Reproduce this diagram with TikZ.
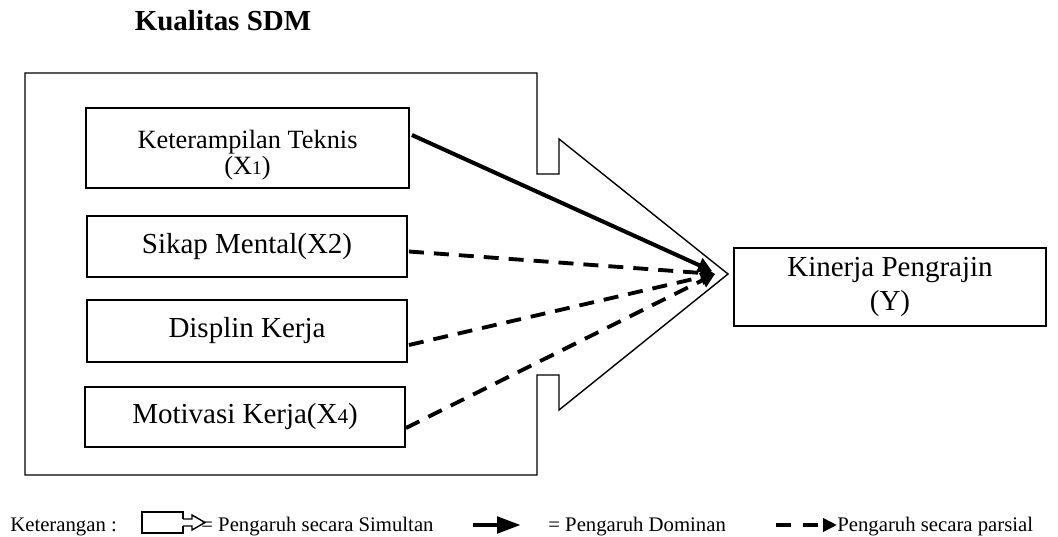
\documentclass[tikz,border=0pt]{standalone}
\usepackage{fontspec}
\setmainfont{Liberation Serif}
\usetikzlibrary{arrows.meta,calc}
\begin{document}
\begin{tikzpicture}[x=0.02cm,y=-0.02cm,
  var/.style={draw, line width=1.1pt, inner sep=0pt, align=center, font=\fontsize{16.5}{19.3}\selectfont},
  dom/.style={line width=2.3pt, -{Triangle[length=0.28cm,width=0.3cm]}},
  par/.style={line width=2.2pt, dash pattern=on 0.3cm off 0.2cm, -{Triangle[length=0.28cm,width=0.3cm]}},
  leg/.style={inner sep=0pt, anchor=base west, font=\fontsize{11.8}{14}\selectfont}]
\useasboundingbox (0,0) rectangle (1058,537);
\node[inner sep=0pt, anchor=base, font=\bfseries\fontsize{16.5}{19}\selectfont] (judul) at (223,31) {Kualitas SDM};
% kotak besar (simultan)
\draw[line width=0.8pt, line join=miter] (25,73) -- (537,73) -- (537,174) -- (559,174) -- (559,139) -- (728,274)
  -- (559,410) -- (559,375) -- (537,375) -- (537,475) -- (25,475) -- cycle;
\node[var, minimum width=6.46cm, minimum height=1.6cm, font=\fontsize{15}{14.7}\selectfont] (x1) at (247.5,148) {\rule{0pt}{18.7pt}Keterampilan Teknis\\(X{\fontsize{11}{11}\selectfont 1})};
\node[var, minimum width=6.4cm, minimum height=1.22cm] (x2) at (247,246.5) {Sikap Mental(X2)};
\node[var, minimum width=6.4cm, minimum height=1.24cm] (x3) at (247,331) {Displin Kerja};
\node[var, minimum width=6.4cm, minimum height=1.2cm] (x4) at (245,417) {Motivasi Kerja(X{\fontsize{12}{12}\selectfont 4})};
\node[var, minimum width=6.24cm, minimum height=1.56cm] (ky) at (890,287) {Kinerja Pengrajin\\(Y)};
\coordinate (tip) at (715,274);
\coordinate (tip1) at (712,271);
\draw[dom] ($(x1.east)+(2,-13)$) -- (tip1);
\draw[par] ($(x2.east)+(1,5)$) -- (tip);
\draw[par] ($(x3.east)+(1,14)$) -- (tip);
\draw[par] ($(x4.east)+(0,11)$) -- (tip);
% keterangan
\node[leg] (leg0) at (10,531) {Keterangan :};
\draw[line width=0.8pt] (183,519) -- (183,512) -- (142,512) -- (142,533) -- (183,533) -- (183,526);
\draw[line width=0.8pt] (183,519) -- (192,519) -- (192,515) -- (205,522.5) -- (192,530) -- (192,526) -- (183,526);
\node[leg] (leg1) at (201,531) {= Pengaruh secara Simultan};
\coordinate (d0) at (473,525);
\coordinate (d1) at (521,525);
\draw[line width=2.8pt, -{Triangle[length=0.48cm,width=0.32cm]}] (d0) -- (d1);
\node[leg] (leg2) at (548,531) {= Pengaruh Dominan};
\coordinate (p0) at (776,525);
\coordinate (p1) at (837,525);
\draw[line width=2.2pt, dash pattern=on 0.3cm off 0.24cm, -{Triangle[length=0.28cm,width=0.26cm]}] (p0) -- (p1);
\node[leg] (leg3) at (837,531) {Pengaruh secara parsial};
\end{tikzpicture}
\end{document}
